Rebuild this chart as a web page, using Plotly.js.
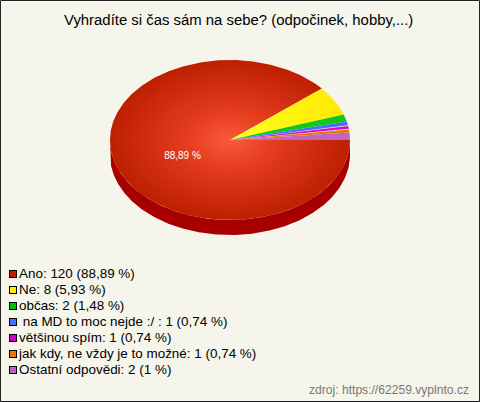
<!DOCTYPE html>
<html>
<head>
<meta charset="utf-8">
<script src="https://cdn.plot.ly/plotly-3.0.1.min.js"></script>
<style>html,body{margin:0;padding:0;background:#f5f5ec}</style>
</head>
<body>
<div id="chart" style="width:480px;height:402px"></div>
<script>
var categories = ["Ano", "Ne", "občas", "\u00a0na MD to moc nejde :/ ", "většinou spím", "jak kdy, ne vždy je to možné", "Ostatní odpovědi"];
var values = [120, 8, 2, 1, 1, 1, 2];
var percentLabels = ["88,89 %", "5,93 %", "1,48 %", "0,74 %", "0,74 %", "0,74 %", "1 %"];
var legendColors = ["#c02000", "#ffee00", "#00c000", "#4a6cff", "#cc00cc", "#e87800", "#c060c0"];
var innerColors = ["#fb5a3a", "#ffff22", "#1ad81e", "#5a78ff", "#e018e0", "#f08010", "#c870c8"];
var outerColors = ["#bd1f00", "#ffe800", "#10c818", "#4a6cff", "#cc10cc", "#e87800", "#c264c4"];
var sideColor = "#a80000";
var W = 480, H = 402, CX = 230, CY = 140, RX = 120, RY = 80, DEPTH = 15 / 80;

var total = values.reduce(function (a, b) { return a + b; }, 0);
function arc(from, to, dy) {
  var xs = [], ys = [], n = Math.max(2, Math.ceil(Math.abs(to - from) / 0.01));
  for (var i = 0; i <= n; i++) {
    var a = from + (to - from) * i / n;
    xs.push(Math.cos(a)); ys.push(-Math.sin(a) + (dy || 0));
  }
  return [xs, ys];
}
var traces = [];
// side wall of the pie
var wallTop = arc(0, Math.PI), wallBottom = arc(Math.PI, 0, -DEPTH);
traces.push({
  x: wallTop[0].concat(wallBottom[0]), y: wallTop[1].concat(wallBottom[1]), mode: "lines", fill: "toself",
  fillcolor: sideColor, line: { width: 0 }, hoverinfo: "skip"
});
// slices, clockwise from the east
var angleStart = 0;
values.forEach(function (v, i) {
  var end = angleStart + 2 * Math.PI * v / total;
  var a = arc(angleStart, end);
  var t = {
    x: [0].concat(a[0], [0]), y: [0].concat(a[1], [0]), mode: "lines", fill: "toself",
    line: { width: 0 }, hoverinfo: "skip", name: categories[i]
  };
  if (i === 0) {
    t.fillgradient = { type: "radial", colorscale: [[0, innerColors[i]], [0.35, "#e53d20"], [1, outerColors[i]]] };
  } else if (i === 1) {
    t.fillgradient = { type: "horizontal", start: 0, stop: 1, colorscale: [[0, innerColors[i]], [1, outerColors[i]]] };
  } else {
    t.fillcolor = outerColors[i];
  }
  traces.push(t);
  angleStart = end;
});
function px(x) { return (x - CX) / RX; }
function py(y) { return (CY - y) / RY; }
// value label
traces.push({
  x: [px(182.5)], y: [py(156)], mode: "text", text: [percentLabels[0]], textposition: "middle center",
  textfont: { family: "Liberation Sans, Arial, sans-serif", size: 10, color: "#ffffff" }, hoverinfo: "skip", cliponaxis: false
});
// legend
var legendTop = 274, legendStep = 16;
var ly = categories.map(function (c, i) { return py(legendTop + i * legendStep); });
var lx = categories.map(function () { return px(13); });
traces.push({
  x: lx, y: ly, mode: "markers",
  marker: { symbol: "square", size: 8, color: "#000000", line: { width: 0 } },
  hoverinfo: "skip", cliponaxis: false
});
traces.push({
  x: lx, y: ly, mode: "markers",
  marker: { symbol: "square", size: 6, color: legendColors, line: { width: 0 } },
  hoverinfo: "skip", cliponaxis: false
});
traces.push({
  x: categories.map(function () { return px(19); }), y: ly.map(function (v) { return v - 1 / RY; }), mode: "text",
  text: categories.map(function (c, i) { return c + ": " + values[i] + " (" + percentLabels[i] + ")"; }),
  textposition: "middle right",
  textfont: { family: "Liberation Sans, Arial, sans-serif", size: 13.45, color: "#000000" }, hoverinfo: "skip", cliponaxis: false
});
var layout = {
  width: W, height: H, showlegend: false,
  margin: { l: 0, r: 0, t: 0, b: 0, pad: 0 },
  paper_bgcolor: "#f5f5ec", plot_bgcolor: "rgba(0,0,0,0)",
  xaxis: { range: [px(0), px(W)], visible: false, fixedrange: true },
  yaxis: { range: [py(H), py(0)], visible: false, fixedrange: true },
  annotations: [
    { text: "Vyhradíte si čas sám na sebe? (odpočinek, hobby,...)", xref: "paper", yref: "paper", x: 238.5 / W, y: 1 - 20 / H,
      xanchor: "center", yanchor: "middle", showarrow: false, font: { family: "Liberation Sans, Arial, sans-serif", size: 14.9, color: "#000000" } },
    { text: "zdroj: https://62259.vyplnto.cz", xref: "paper", yref: "paper", x: 471 / W, y: 1 - 390 / H,
      xanchor: "right", yanchor: "middle", showarrow: false, font: { family: "Liberation Sans, Arial, sans-serif", size: 12.1, color: "#777777" } }
  ],
  shapes: [
    { type: "rect", xref: "paper", yref: "paper", x0: 0.5 / W, x1: (W - 0.5) / W, y0: 0.5 / H, y1: 1 - 0.5 / H, line: { color: "#222222", width: 1 } }
  ]
};
Plotly.newPlot("chart", traces, layout, { displayModeBar: false, staticPlot: true });
</script>
</body>
</html>
